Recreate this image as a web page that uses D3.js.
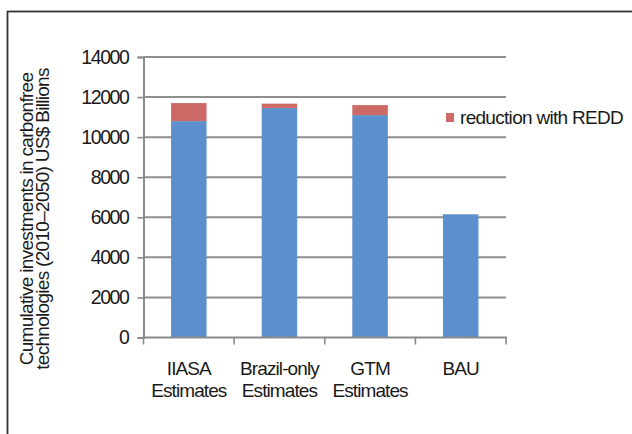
<!DOCTYPE html>
<html>
<head>
<meta charset="utf-8">
<script src="https://cdn.jsdelivr.net/npm/d3@7"></script>
<style>
  html, body { margin: 0; padding: 0; background: #fff; }
  svg { display: block; }
  text { font-family: "Liberation Sans", Arial, sans-serif; fill: #1a1a1a; }
</style>
</head>
<body>
<svg id="chart" width="632" height="434"></svg>
<script>
// Scenario categories (two-line axis labels)
const categories = ["IIASA Estimates", "Brazil-only Estimates", "GTM Estimates", "BAU"];
const categoryLines = [["IIASA", "Estimates"], ["Brazil-only", "Estimates"], ["GTM", "Estimates"], ["BAU"]];
// Cumulative investment with REDD (US$ billions)
const baseValues = [10800, 11450, 11100, 6150];
// Additional investment avoided through REDD (US$ billions)
const reddValues = [900, 220, 500, 0];
const yTicks = [0, 2000, 4000, 6000, 8000, 10000, 12000, 14000];
const legendLabel = "reduction with REDD";
const yTitleLines = ["Cumulative investments in carbonfree", "technologies (2010\u20132050) US$ Billions"];

const svg = d3.select("#chart");
const plotLeft = 143.5, plotRight = 506, plotTop = 57, plotBottom = 337.5;

// Outer frame
svg.append("rect")
  .attr("x", 7.5).attr("y", 11.5)
  .attr("width", 700).attr("height", 500)
  .attr("fill", "none").attr("stroke", "#333").attr("stroke-width", 1.8);

const x = d3.scaleBand().domain(categories).range([plotLeft, plotRight]).paddingInner(0).paddingOuter(0);
const y = d3.scaleLinear().domain([0, 14000]).range([plotBottom, plotTop]);

// Gridlines
svg.append("g")
  .selectAll("line").data(yTicks.filter(t => t > 0)).join("line")
  .attr("x1", plotLeft).attr("x2", plotRight)
  .attr("y1", d => y(d)).attr("y2", d => y(d))
  .attr("stroke", "#8e8e8e").attr("stroke-width", 2);

// Stacked bars
const rows = categories.map((c, i) => ({ cat: c, base: baseValues[i], redd: reddValues[i] }));
const stack = d3.stack().keys(["base", "redd"])(rows);
const colors = { base: "#5b8fcd", redd: "#cd6a67" };
const barW = 35.5;

svg.append("g").selectAll("g").data(stack).join("g")
  .attr("fill", d => colors[d.key])
  .selectAll("rect").data(d => d.filter(p => p[1] > p[0])).join("rect")
  .attr("x", d => x(d.data.cat) + x.bandwidth() / 2 - barW / 2)
  .attr("width", barW)
  .attr("y", d => y(d[1]))
  .attr("height", d => y(d[0]) - y(d[1]));

// Y axis
const yAxis = svg.append("g")
  .attr("transform", `translate(${plotLeft},0)`)
  .call(d3.axisLeft(y).tickValues(yTicks).tickSize(6).tickPadding(9).tickFormat(d3.format("d")));
yAxis.select(".domain").attr("stroke", "#8a8a8a").attr("stroke-width", 2);
yAxis.selectAll(".tick line").attr("stroke", "#8a8a8a").attr("stroke-width", 1.6);
yAxis.selectAll(".tick text")
  .style("font-size", "19.5px").style("letter-spacing", "-1.4px").attr("fill", "#1a1a1a");

// X axis with tick marks at band boundaries
const xg = svg.append("g").attr("transform", `translate(0,${plotBottom})`);
xg.append("line").attr("x1", plotLeft).attr("x2", plotRight + 1)
  .attr("stroke", "#8a8a8a").attr("stroke-width", 2);
const bounds = categories.map(c => x(c)).concat([plotRight]);
xg.selectAll("line.tk").data(bounds).join("line").attr("class", "tk")
  .attr("x1", d => d).attr("x2", d => d).attr("y1", 0).attr("y2", 7)
  .attr("stroke", "#8a8a8a").attr("stroke-width", 1.6);

categories.forEach((c, i) => {
  const t = svg.append("text")
    .attr("x", x(c) + x.bandwidth() / 2)
    .attr("y", 375)
    .attr("text-anchor", "middle")
    .style("font-size", "19px").style("letter-spacing", "-0.9px");
  categoryLines[i].forEach((ln, j) => {
    t.append("tspan").attr("x", x(c) + x.bandwidth() / 2).attr("dy", j === 0 ? 0 : 22).text(ln);
  });
});

// Y axis title
yTitleLines.forEach((ln, j) => {
  svg.append("text")
    .attr("transform", `translate(${33 + j * 16},219) rotate(-90)`)
    .attr("text-anchor", "middle")
    .style("font-size", "19px").style("letter-spacing", "-0.7px")
    .text(ln);
});

// Legend
svg.append("rect").attr("x", 446).attr("y", 113).attr("width", 8).attr("height", 9).attr("fill", colors.redd);
svg.append("text").attr("x", 460).attr("y", 124)
  .style("font-size", "19px").style("letter-spacing", "-0.7px")
  .text(legendLabel);
</script>
</body>
</html>
